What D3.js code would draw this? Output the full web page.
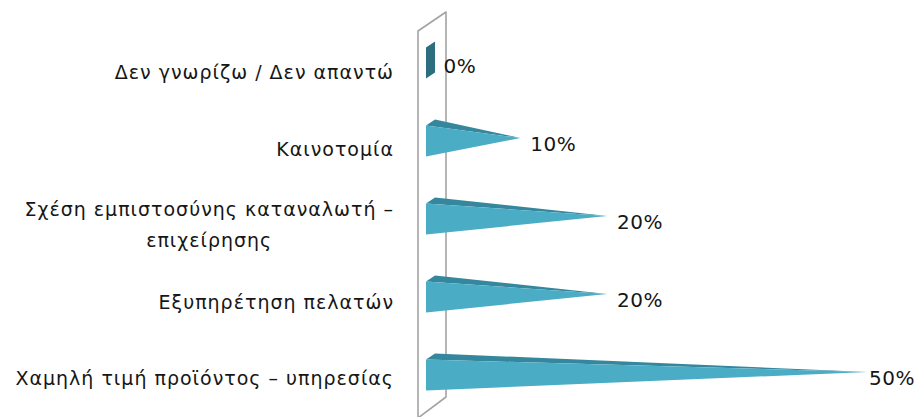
<!DOCTYPE html>
<html>
<head>
<meta charset="utf-8">
<script src="https://cdn.jsdelivr.net/npm/d3@7"></script>
<style>
  html, body { margin: 0; padding: 0; background: #ffffff; }
  svg { display: block; }
  text { font-family: "DejaVu Sans", sans-serif; fill: #161616; }
</style>
</head>
<body>
<svg id="chart" width="917" height="417"></svg>
<script>
// ---- data ----
const categories = [
  "Δεν γνωρίζω / Δεν απαντώ",
  "Καινοτομία",
  "Σχέση εμπιστοσύνης καταναλωτή – επιχείρησης",
  "Εξυπηρέτηση πελατών",
  "Χαμηλή τιμή προϊόντος – υπηρεσίας"
];
const categoryLines = [
  ["Δεν γνωρίζω / Δεν απαντώ"],
  ["Καινοτομία"],
  ["Σχέση εμπιστοσύνης καταναλωτή –", "επιχείρησης"],
  ["Εξυπηρέτηση πελατών"],
  ["Χαμηλή τιμή προϊόντος – υπηρεσίας"]
];
const values = [0, 10, 20, 20, 50];
const valueLabels = ["0%", "10%", "20%", "20%", "50%"];

// ---- layout ----
const W = 917, H = 417;
const svg = d3.select("#chart");

const x = d3.scaleLinear().domain([0, 50]).range([429, 863]);
const y = d3.scalePoint().domain(categories).range([63, 375]);
const yLabel = d3.scalePoint().domain(categories).range([79, 385]);

const x0 = 426;     // front face left edge of pyramids
const depthX = 9, depthY = -6;  // oblique depth offset
const barH = 31;

const frontColor = "#4bacc6";
const topColor = "#35879d";
const baseColor = "#2c6d7e";

// ---- wall ----
const wall = svg.append("g");
wall.append("path")
  .attr("d", "M418,418 L418,31 L446,12 L446,397 L418,418")
  .attr("fill", "none")
  .attr("stroke", "#a3a3a3")
  .attr("stroke-width", 1.6)
  .attr("stroke-linejoin", "round");

// ---- pyramids ----
const bars = svg.append("g");
categories.forEach((c, i) => {
  const v = values[i];
  const yc = y(c);
  const top = yc - barH / 2, bot = yc + barH / 2;
  if (v === 0) {
    bars.append("path")
      .attr("d", `M${x0},${top} L${x0 + depthX},${top + depthY} L${x0 + depthX},${bot + depthY} L${x0},${bot} Z`)
      .attr("fill", baseColor);
    return;
  }
  const ax = x(v) + depthX / 2, ay = yc + depthY / 2;
  // top face
  bars.append("path")
    .attr("d", `M${x0},${top} L${x0 + depthX},${top + depthY} L${ax},${ay} Z`)
    .attr("fill", topColor);
  // front face
  bars.append("path")
    .attr("d", `M${x0},${top} L${x0},${bot} L${ax},${ay} Z`)
    .attr("fill", frontColor);
});

// ---- value labels ----
const vl = svg.append("g").attr("font-size", 20).attr("letter-spacing", 0.5);
categories.forEach((c, i) => {
  const v = values[i];
  const ax = x(v) + depthX / 2;
  const t = vl.append("text")
    .attr("x", ax + 10)
    .attr("y", y(c) + 10)
    .text(valueLabels[i]);
  const w = t.node().getComputedTextLength();
  if (ax + 10 + w > W - 2) t.attr("x", W - 2 - w);
});

// ---- category labels ----
const cl = svg.append("g").attr("font-size", 19).attr("letter-spacing", 1);
const rightEdge = 394;
categories.forEach((c, i) => {
  const lines = categoryLines[i];
  const base = yLabel(c);
  if (lines.length === 1) {
    cl.append("text")
      .attr("x", rightEdge)
      .attr("y", base)
      .attr("text-anchor", "end")
      .text(lines[0]);
  } else {
    const g = cl.append("g");
    const ts = lines.map((ln, k) => g.append("text")
      .attr("y", base - 16 + k * 31)
      .attr("text-anchor", "middle")
      .text(ln));
    const maxW = d3.max(ts, t => t.node().getComputedTextLength());
    ts.forEach(t => t.attr("x", rightEdge - maxW / 2));
  }
});
</script>
</body>
</html>
